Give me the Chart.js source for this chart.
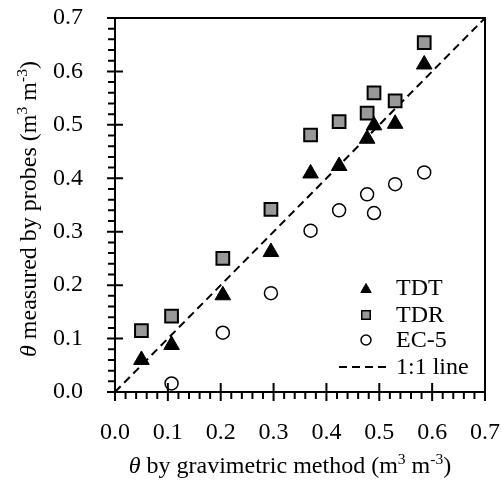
<!DOCTYPE html>
<html>
<head>
<meta charset="utf-8">
<script src="https://cdn.jsdelivr.net/npm/chart.js@4"></script>
<style>
  html, body { margin: 0; padding: 0; background: #fff; }
  #wrap { width: 502px; height: 480px; }
</style>
</head>
<body>
<div id="wrap"><canvas id="probeChart"></canvas></div>
<script>
// gravimetric water content (x) for each sample
const gravX = [0.050, 0.107, 0.204, 0.295, 0.370, 0.424, 0.477, 0.490, 0.530, 0.585];
// probe readings
const tdtVals = [0.060, 0.088, 0.181, 0.262, 0.409, 0.423, 0.474, 0.499, 0.502, 0.613];
const tdrVals = [0.115, 0.142, 0.250, 0.342, 0.481, 0.506, 0.522, 0.560, 0.545, 0.654];
const ec5Vals = [null, 0.016, 0.111, 0.185, 0.302, 0.340, 0.370, 0.335, 0.389, 0.411];
// 1:1 line end points
const lineX = [0, 0.7];
const axisTicks = [0, 0.1, 0.2, 0.3, 0.4, 0.5, 0.6, 0.7];

const FONT = "'Liberation Serif', 'Times New Roman', serif";

function toPoints(xs, ys) {
    let pts = [];
    xs.forEach((x, i) => {
        if (ys[i] !== null) pts.push({ x: x, y: ys[i] });
    });
    return pts;
}

// ------------------------------------------------------
// axes frame + inward/outward ticks
// ------------------------------------------------------
const framePlugin = {
    id: "frame",
    afterDatasetsDraw(chart) {
        const ctx = chart.ctx;
        const a = chart.chartArea;
        const xs = chart.scales.x, ys = chart.scales.y;
        ctx.save();
        ctx.strokeStyle = "#000";
        ctx.lineWidth = 2;
        ctx.strokeRect(a.left, a.top, a.right - a.left, a.bottom - a.top);

        ctx.beginPath();
        for (let i = 0; i <= 35; i++) {
            let v = i * 0.02;
            let px = xs.getPixelForValue(v);
            let py = ys.getPixelForValue(v);
            if (i % 5 === 0) {
                ctx.moveTo(px, a.bottom - 9); ctx.lineTo(px, a.bottom + 9);
                ctx.moveTo(a.left - 8, py); ctx.lineTo(a.left + 8, py);
            } else {
                ctx.moveTo(px, a.bottom); ctx.lineTo(px, a.bottom + 7);
                ctx.moveTo(a.left - 7, py); ctx.lineTo(a.left, py);
            }
        }
        ctx.stroke();
        ctx.restore();
    }
};

// ------------------------------------------------------
// axis titles with italic theta and superscripts
// ------------------------------------------------------
function richWidth(ctx, parts, size) {
    let w = 0;
    parts.forEach(p => {
        ctx.font = (p.italic ? "italic " : "") + (p.sup ? size * 0.65 : size) + "px " + FONT;
        w += ctx.measureText(p.text).width;
    });
    return w;
}

function drawRich(ctx, parts, cx, baseY, size) {
    let x = cx - richWidth(ctx, parts, size) / 2;
    parts.forEach(p => {
        ctx.font = (p.italic ? "italic " : "") + (p.sup ? size * 0.65 : size) + "px " + FONT;
        ctx.fillText(p.text, x, p.sup ? baseY - size * 0.38 : baseY);
        x += ctx.measureText(p.text).width;
    });
}

const titlePlugin = {
    id: "titles",
    afterDraw(chart) {
        const ctx = chart.ctx;
        const a = chart.chartArea;
        ctx.save();
        ctx.fillStyle = "#000";
        ctx.textAlign = "left";
        ctx.textBaseline = "alphabetic";

        drawRich(ctx, [
            { text: "θ", italic: true },
            { text: " by gravimetric method (m" },
            { text: "3", sup: true },
            { text: " m" },
            { text: "-3", sup: true },
            { text: ")" }
        ], (a.left + a.right) / 2 - 10, 473, 24);

        ctx.translate(36, (a.top + a.bottom) / 2 + 4);
        ctx.rotate(-Math.PI / 2);
        drawRich(ctx, [
            { text: "θ", italic: true },
            { text: " measured by probes (m" },
            { text: "3", sup: true },
            { text: " m" },
            { text: "-3", sup: true },
            { text: ")" }
        ], 0, 0, 24);
        ctx.restore();
    }
};

// ------------------------------------------------------
// legend inside plot, lower right
// ------------------------------------------------------
const legendPlugin = {
    id: "innerLegend",
    afterDraw(chart) {
        const ctx = chart.ctx;
        const a = chart.chartArea;
        const mx = a.right - 119;
        const tx = a.right - 89;
        const rows = [a.bottom - 104, a.bottom - 77, a.bottom - 52, a.bottom - 25];
        const legendStyles = [
            { pointStyle: "triangle", radius: 6, borderWidth: 1, rotation: 0 },
            { pointStyle: "rect", radius: 6, borderWidth: 1.5, rotation: 0 },
            { pointStyle: "circle", radius: 5, borderWidth: 1.5, rotation: 0 }
        ];
        ctx.save();
        ctx.font = "24px " + FONT;
        ctx.textBaseline = "middle";
        ctx.fillStyle = "#000";
        chart.data.datasets.forEach((ds, i) => {
            if (i < 3) {
                ctx.fillStyle = ds.backgroundColor;
                ctx.strokeStyle = ds.borderColor;
                ctx.lineWidth = legendStyles[i].borderWidth;
                Chart.helpers.drawPoint(ctx, legendStyles[i], mx, rows[i] + (i === 0 ? 1.5 : 0));
            } else {
                ctx.strokeStyle = "#000";
                ctx.lineWidth = 2;
                ctx.setLineDash(ds.borderDash);
                ctx.beginPath();
                ctx.moveTo(mx - 27, rows[i]);
                ctx.lineTo(mx + 24, rows[i]);
                ctx.stroke();
                ctx.setLineDash([]);
            }
            ctx.fillStyle = "#000";
            ctx.fillText(ds.label, tx, rows[i] + 1);
        });
        ctx.restore();
    }
};

function noOverhang(s) {
    s.paddingLeft = 0;
    s.paddingRight = 0;
    s.paddingTop = 0;
    s.paddingBottom = 0;
}

new Chart(document.getElementById("probeChart"), {
    type: "scatter",
    data: {
        datasets: [
            {
                label: "TDT",
                data: toPoints(gravX, tdtVals),
                pointStyle: "triangle",
                pointRadius: 9,
                backgroundColor: "#000",
                borderColor: "#000",
                borderWidth: 1
            },
            {
                label: "TDR",
                data: toPoints(gravX, tdrVals),
                pointStyle: "rect",
                pointRadius: 9,
                backgroundColor: "#999",
                borderColor: "#000",
                borderWidth: 2
            },
            {
                label: "EC-5",
                data: toPoints(gravX, ec5Vals),
                pointStyle: "circle",
                pointRadius: 6.5,
                backgroundColor: "#fff",
                borderColor: "#000",
                borderWidth: 1.5
            },
            {
                type: "line",
                label: "1:1 line",
                data: toPoints(lineX, lineX),
                borderColor: "#000",
                borderWidth: 2,
                borderDash: [8, 5],
                pointRadius: 0,
                fill: false
            }
        ]
    },
    options: {
        responsive: true,
        maintainAspectRatio: false,
        animation: false,
        layout: { padding: { left: 0, right: 17, top: 18, bottom: 0 } },
        plugins: {
            legend: { display: false },
            tooltip: { enabled: false }
        },
        scales: {
            x: {
                type: "linear",
                min: 0,
                max: 0.7,
                grid: { display: false, drawTicks: false },
                border: { display: false },
                afterFit: s => { s.height = 88; noOverhang(s); },
                afterBuildTicks: s => { s.ticks = axisTicks.map(v => ({ value: v })); },
                ticks: {
                    padding: 26,
                    color: "#000",
                    font: { family: FONT, size: 24 },
                    callback: v => v.toFixed(1)
                }
            },
            y: {
                type: "linear",
                min: 0,
                max: 0.7,
                grid: { display: false, drawTicks: false },
                border: { display: false },
                afterFit: s => { s.width = 115; noOverhang(s); },
                afterBuildTicks: s => { s.ticks = axisTicks.map(v => ({ value: v })); },
                ticks: {
                    padding: 32,
                    color: "#000",
                    font: { family: FONT, size: 24 },
                    callback: v => v.toFixed(1)
                }
            }
        }
    },
    plugins: [framePlugin, titlePlugin, legendPlugin]
});
</script>
</body>
</html>
